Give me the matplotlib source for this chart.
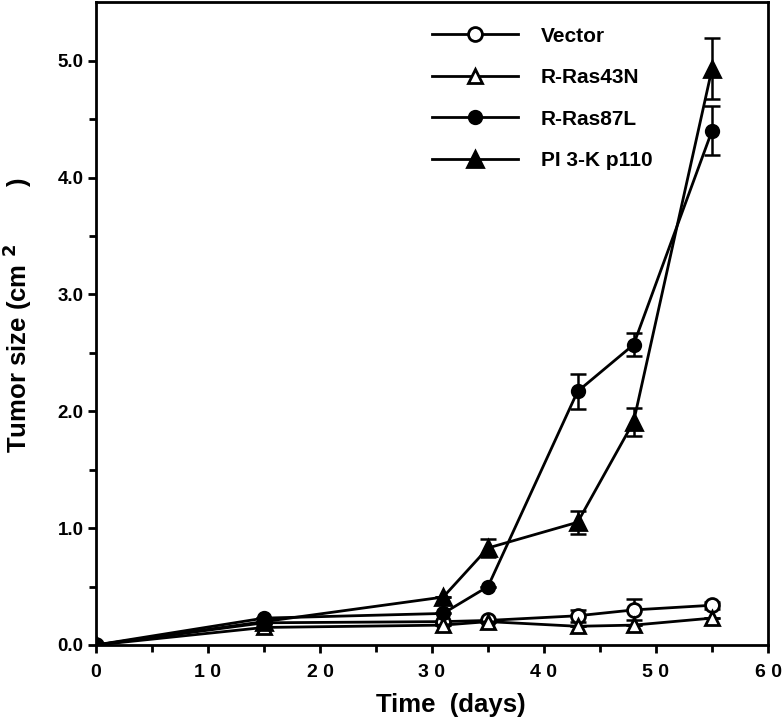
import matplotlib
matplotlib.use("Agg")
import matplotlib.pyplot as plt
import numpy as np

plt.rcParams['font.family'] = ['Liberation Sans', 'DejaVu Sans']
plt.rcParams['font.weight'] = 'bold'
plt.rcParams['mathtext.default'] = 'bf'

days = [0, 15, 31, 35, 43, 48, 55]
vector = [0.0, 0.19, 0.20, 0.21, 0.25, 0.30, 0.34]
vector_err = [0, 0, 0, 0, 0.05, 0.09, 0.03]
ras43n = [0.0, 0.15, 0.17, 0.20, 0.16, 0.17, 0.23]
ras43n_err = [0, 0, 0, 0, 0, 0, 0]
ras87l = [0.0, 0.23, 0.27, 0.50, 2.17, 2.57, 4.40]
ras87l_err = [0, 0, 0, 0, 0.15, 0.10, 0.21]
pi3k = [0.0, 0.20, 0.41, 0.83, 1.05, 1.91, 4.93]
pi3k_err = [0, 0, 0, 0.08, 0.10, 0.12, 0.26]

names = ['Vector', 'R-Ras43N', 'R-Ras87L', 'PI 3-K p110']
xticks = [0, 10, 20, 30, 40, 50, 60]
xticklabels = ['0', '1 0', '2 0', '3 0', '4 0', '5 0', '6 0']
yticks = [0, 1, 2, 3, 4, 5]
yticklabels = ['0.0', '1.0', '2.0', '3.0', '4.0', '5.0']

fig = plt.figure(figsize=(7.84, 7.23), dpi=100)
ax = fig.add_axes([0.1224, 0.1079, 0.8572, 0.889])

series = [
    (vector, vector_err, 'o', 'white', 10),
    (ras43n, ras43n_err, '^', 'white', 10),
    (ras87l, ras87l_err, 'o', 'black', 9),
    (pi3k, pi3k_err, '^', 'black', 11),
]
handles = []
for (vals, err, m, fc, ms), name in zip(series, names):
    ax.errorbar(days, vals, yerr=err, fmt='none', ecolor='black', elinewidth=1.8,
                capsize=6, capthick=1.8, zorder=2)
    h, = ax.plot(days, vals, color='black', lw=2, marker=m, markersize=ms,
                 markerfacecolor=fc, markeredgecolor='black', markeredgewidth=2,
                 label=name, zorder=3)
    handles.append(h)

ax.set_xlim(0, 60)
ax.set_ylim(0, 5.5)
ax.set_xticks(xticks)
ax.set_xticklabels(xticklabels)
ax.set_xticks(np.arange(5, 60, 10), minor=True)
ax.set_yticks(yticks)
ax.set_yticklabels(yticklabels)
ax.set_yticks(np.arange(0.5, 5.5, 1.0), minor=True)
ax.tick_params(which='both', direction='out', width=2)
ax.tick_params(axis='x', labelsize=14, pad=8)
ax.tick_params(axis='y', labelsize=13.5, pad=3)
ax.tick_params(which='major', length=6)
ax.tick_params(which='minor', length=5)
for s in ax.spines.values():
    s.set_linewidth(2)

ax.set_xlabel('Time  (days)', fontsize=18.5, fontweight='bold')
ax.xaxis.set_label_coords(0.528, -0.075)
ax.set_ylabel(r'Tumor size (cm $^{2}$        )', fontsize=18.5, fontweight='bold')
ax.yaxis.set_label_coords(-0.092, 0.513)

leg = ax.legend(handles=handles, loc='upper left', bbox_to_anchor=(0.488, 0.975),
                frameon=False, fontsize=15, handlelength=4.1, labelspacing=1.08,
                handletextpad=1.1, borderaxespad=0.0)

fig.savefig('out.png', dpi=100)
